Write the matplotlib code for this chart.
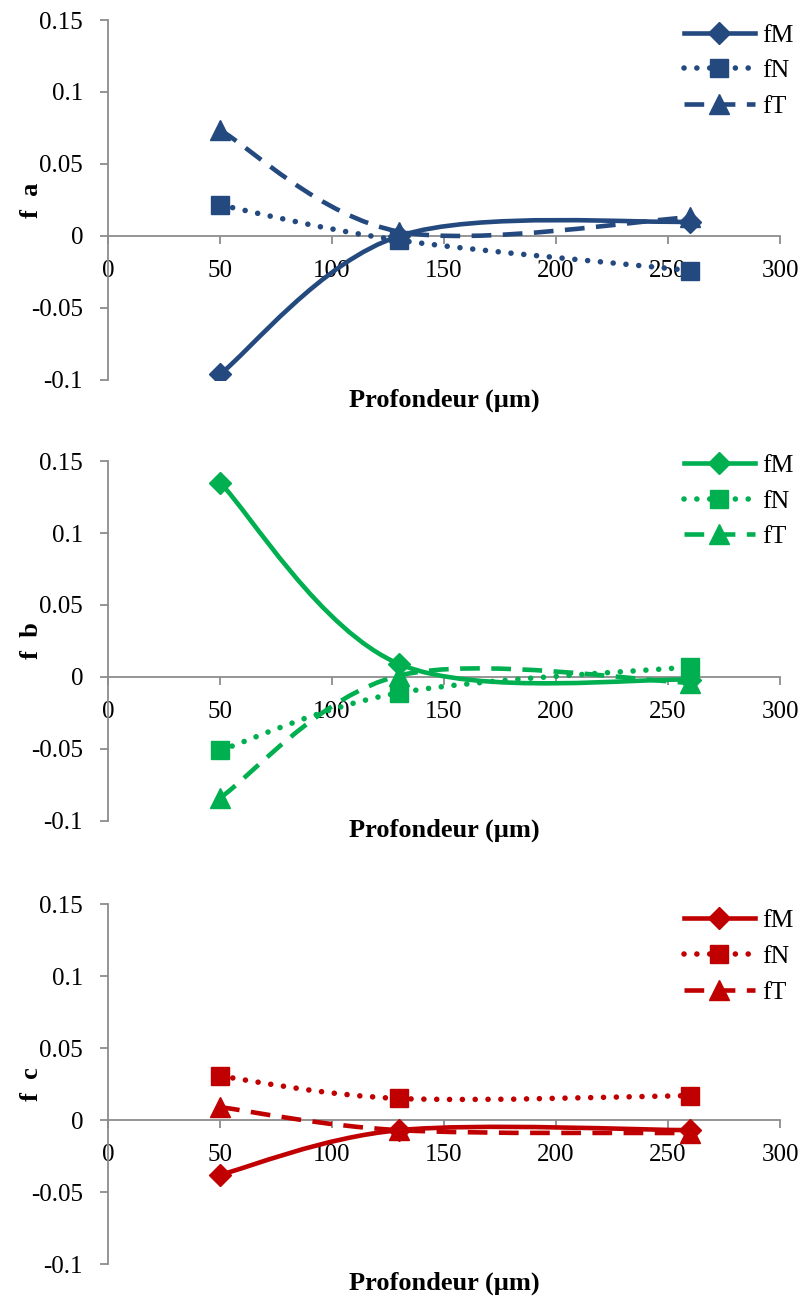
import matplotlib
matplotlib.use("Agg")
import matplotlib.pyplot as plt
from matplotlib.path import Path
from matplotlib.patches import PathPatch
from matplotlib.lines import Line2D
import numpy as np

plt.rcParams['font.family'] = ['Liberation Serif', 'DejaVu Serif']

# profondeur (µm)
depth = [50, 130, 260]

# panneau a
fa_M = [-0.096, 0.0, 0.010]
fa_N = [0.0215, -0.003, -0.024]
fa_T = [0.0736, 0.003, 0.013]
# panneau b
fb_M = [0.135, 0.009, -0.002]
fb_N = [-0.051, -0.011, 0.007]
fb_T = [-0.084, 0.001, -0.004]
# panneau c
fc_M = [-0.038, -0.007, -0.007]
fc_N = [0.0305, 0.015, 0.017]
fc_T = [0.009, -0.007, -0.009]

series_names = ['fM', 'fN', 'fT']
panel_labels = ['f  a', 'f  b', 'f  c']
colors = ['#23497F', '#00B050', '#C00000']
panels = [[fa_M, fa_N, fa_T], [fb_M, fb_N, fb_T], [fc_M, fc_N, fc_T]]

yticks = [-0.1, -0.05, 0, 0.05, 0.1, 0.15]
ytick_labels = ['-0.1', '-0.05', '0', '0.05', '0.1', '0.15']
xticks = [0, 50, 100, 150, 200, 250, 300]

markers = ['D', 's', '^']
msizes = [11, 13, 15]
lws = [3.3, 4.0, 3.3]
dash_styles = ['-', (0, (0.01, 2.3)), (0, (4.3, 2.5))]
caps = ['round', 'round', 'butt']


def smooth_path(x, y):
    # courbe lissée façon Excel (Bézier cubique)
    p = np.column_stack([x, y]).astype(float)
    n = len(p)
    verts = [p[0]]
    codes = [Path.MOVETO]
    for i in range(n - 1):
        p0 = p[max(i - 1, 0)]
        p1 = p[i]
        p2 = p[i + 1]
        p3 = p[min(i + 2, n - 1)]
        c1 = p1 + (p2 - p0) / 6.0
        c2 = p2 - (p3 - p1) / 6.0
        verts += [c1, c2, p2]
        codes += [Path.CURVE4] * 3
    return Path(verts, codes)


fig = plt.figure(figsize=(8.05, 12.99), dpi=100)

bottoms = [0.7075, 0.3680, 0.0269]
xlabel_y = [-0.025, 0.006, -0.02]
leg_y = [0.99, 1.02, 0.985]

for k in range(3):
    ax = fig.add_axes([0.1342, bottoms[k], 0.8348, 0.2771])
    col = colors[k]
    handles = []
    for j in range(3):
        vals = panels[k][j]
        patch = PathPatch(smooth_path(depth, vals), facecolor='none', edgecolor=col,
                          lw=lws[j], linestyle=dash_styles[j], capstyle=caps[j], zorder=3)
        ax.add_patch(patch)
        ax.plot(depth, vals, linestyle='none', marker=markers[j], ms=msizes[j],
                color=col, zorder=4)
        h = Line2D([0], [0], color=col, lw=lws[j], linestyle=dash_styles[j],
                   marker=markers[j], ms=msizes[j], dash_capstyle=caps[j])
        handles.append(h)

    ax.set_xlim(0, 300)
    ax.set_ylim(-0.1, 0.15)
    ax.set_xticks(xticks)
    ax.set_xticklabels([str(v) for v in xticks])
    ax.set_yticks(yticks)
    ax.set_yticklabels(ytick_labels)

    ax.spines['top'].set_visible(False)
    ax.spines['right'].set_visible(False)
    ax.spines['bottom'].set_position(('data', 0))
    for s in ['left', 'bottom']:
        ax.spines[s].set_color('#8C8C8C')
        ax.spines[s].set_linewidth(1.3)
    ax.tick_params(axis='both', colors='#8C8C8C', labelcolor='black', labelsize=18,
                   direction='out', length=6, width=1.3)
    ax.tick_params(axis='x', pad=11)
    ax.tick_params(axis='y', pad=12)

    ax.set_xlabel('Profondeur (µm)', fontsize=19, fontweight='bold')
    ax.xaxis.set_label_coords(0.5, xlabel_y[k])
    ax.set_ylabel(panel_labels[k], fontsize=19, fontweight='bold')
    ax.yaxis.set_label_coords(-0.097, 0.5)

    ax.legend(handles, series_names, loc='upper left', bbox_to_anchor=(0.857, leg_y[k]),
              frameon=False, fontsize=18.5, handlelength=2.75, handletextpad=0.3,
              labelspacing=0.5, borderpad=0, borderaxespad=0)

fig.savefig('out.png', dpi=100)
